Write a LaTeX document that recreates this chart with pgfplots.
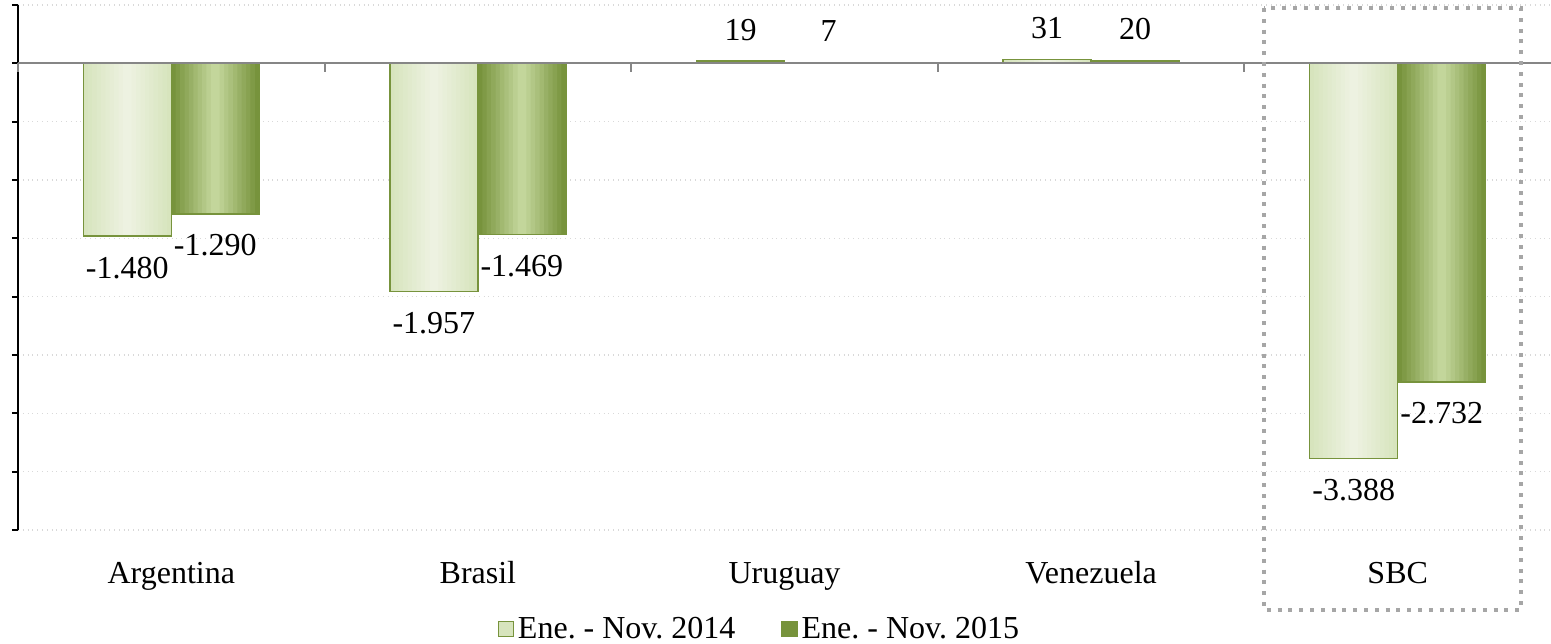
\documentclass[border=0pt]{standalone}
\usepackage{fontspec}
\setmainfont{Liberation Serif}
\usepackage{pgfplots}
\usepackage{pgfplotstable}
\pgfplotsset{compat=1.18}
\usetikzlibrary{calc}
\definecolor{lightA}{HTML}{D7E4BD}
\definecolor{lightB}{HTML}{EDF2E1}
\definecolor{darkA}{HTML}{77933C}
\definecolor{darkB}{HTML}{C3D69B}
\definecolor{bordc}{HTML}{77933C}
\definecolor{zerocol}{HTML}{868686}
\definecolor{boxcol}{HTML}{A6A6A6}
\definecolor{gridc}{HTML}{D9D9D9}
\newcommand{\labfont}{\fontsize{16}{19}\selectfont}
\frenchspacing

% x: 0 Argentina, 1 Brasil, 2 Uruguay, 3 Venezuela, 4 SBC
\pgfplotstableread{
x  a     b
0  -1480 -1290
1  -1957 -1469
2  19    7
3  31    20
4  -3388 -2732
}\data

% one band of the horizontal gradient: width, shift, colour, column
\newcommand{\layer}[4]{\addplot[ybar, forget plot, draw=none, bar width=#1, bar shift=#2, fill=#3] table[x=x, y=#4] {\data};}

\begin{document}
\begin{tikzpicture}
\begin{axis}[
  name=ax,
  scale only axis, width=766.5pt, height=262.5pt,
  xmin=-0.5, xmax=4.5, ymin=-4000, ymax=500,
  axis x line*=bottom, axis y line*=left,
  x axis line style={draw=none},
  y axis line style={black, line width=1pt},
  xtick={0,1,2,3,4},
  xticklabels={Argentina,Brasil,Uruguay,Venezuela,SBC},
  xtick style={draw=none},
  ytick={-4000,-3500,...,500}, yticklabels={},
  ytick style={black, line width=1pt},
  tick align=outside, major tick length=3pt,
  ymajorgrids, grid style={dotted, gridc, line width=0.75pt},
  xticklabel style={font=\labfont, anchor=base, yshift=-24pt},
  every node near coord/.append style={font=\labfont, inner sep=10pt, black},
  /pgf/number format/1000 sep={.},
  /pgf/number format/assume math mode=true,
  clip=false,
  legend columns=2,
  legend style={draw=none, fill=none, at={(0.4843,-0.2207)}, anchor=south,
    font=\labfont, inner sep=0pt,
    /tikz/every even column/.append style={column sep=21pt}},
]
% Ene. - Nov. 2014 (light, shaded bands)
\layer{0.287}{-0.1435}{lightA}{a}
\layer{0.2583}{-0.1435}{lightB!11!lightA}{a}
\layer{0.2296}{-0.1435}{lightB!22!lightA}{a}
\layer{0.2009}{-0.1435}{lightB!33!lightA}{a}
\layer{0.1722}{-0.1435}{lightB!44!lightA}{a}
\layer{0.1435}{-0.1435}{lightB!56!lightA}{a}
\layer{0.1148}{-0.1435}{lightB!67!lightA}{a}
\layer{0.0861}{-0.1435}{lightB!78!lightA}{a}
\layer{0.0574}{-0.1435}{lightB!89!lightA}{a}
\layer{0.0287}{-0.1435}{lightB}{a}
% Ene. - Nov. 2015 (dark, shaded bands)
\layer{0.287}{0.1435}{darkA}{b}
\layer{0.2583}{0.1435}{darkB!11!darkA}{b}
\layer{0.2296}{0.1435}{darkB!22!darkA}{b}
\layer{0.2009}{0.1435}{darkB!33!darkA}{b}
\layer{0.1722}{0.1435}{darkB!44!darkA}{b}
\layer{0.1435}{0.1435}{darkB!56!darkA}{b}
\layer{0.1148}{0.1435}{darkB!67!darkA}{b}
\layer{0.0861}{0.1435}{darkB!78!darkA}{b}
\layer{0.0574}{0.1435}{darkB!89!darkA}{b}
\layer{0.0287}{0.1435}{darkB}{b}
% outlines, value labels and legend entries
\addplot[ybar, bar width=0.287, bar shift=-0.1435, draw=bordc, line width=0.75pt, fill=none,
  nodes near coords, every node near coord/.append style={xshift=-22pt},
  legend image code/.code={\draw[draw=bordc, line width=0.6pt, left color=lightA, middle color=lightB, right color=lightA] (0pt,-3.75pt) rectangle (7.5pt,3.75pt);}]
  table[x=x, y=a] {\data};
\addplot[ybar, bar width=0.287, bar shift=0.1435, draw=bordc, line width=0.75pt, fill=none,
  nodes near coords, every node near coord/.append style={xshift=22pt},
  legend image code/.code={\draw[draw=bordc, line width=0.6pt, left color=darkA, middle color=darkB, right color=darkA] (0pt,-3.75pt) rectangle (7.5pt,3.75pt);}]
  table[x=x, y=b] {\data};
\legend{Ene. - Nov. 2014, Ene. - Nov. 2015}
% zero line with category separators
\draw[zerocol, line width=1pt] (axis cs:-0.5,0) -- (axis cs:4.5,0);
\draw[zerocol, line width=1pt]
  (axis cs:-0.5,0) -- ++(0pt,-4.5pt)
  (axis cs:0.5,0) -- ++(0pt,-4.5pt)
  (axis cs:1.5,0) -- ++(0pt,-4.5pt)
  (axis cs:2.5,0) -- ++(0pt,-4.5pt)
  (axis cs:3.5,0) -- ++(0pt,-4.5pt);
% highlight box round SBC
\draw[boxcol, line width=2pt, dash pattern=on 2pt off 3.4pt]
  (axis cs:3.564,474) rectangle (axis cs:4.402,-4686);
\end{axis}
\pgfresetboundingbox
\path[use as bounding box] ($(ax.south west)+(-9pt,-57pt)$) rectangle ($(ax.north east)+(0pt,2.5pt)$);
\end{tikzpicture}
\end{document}
